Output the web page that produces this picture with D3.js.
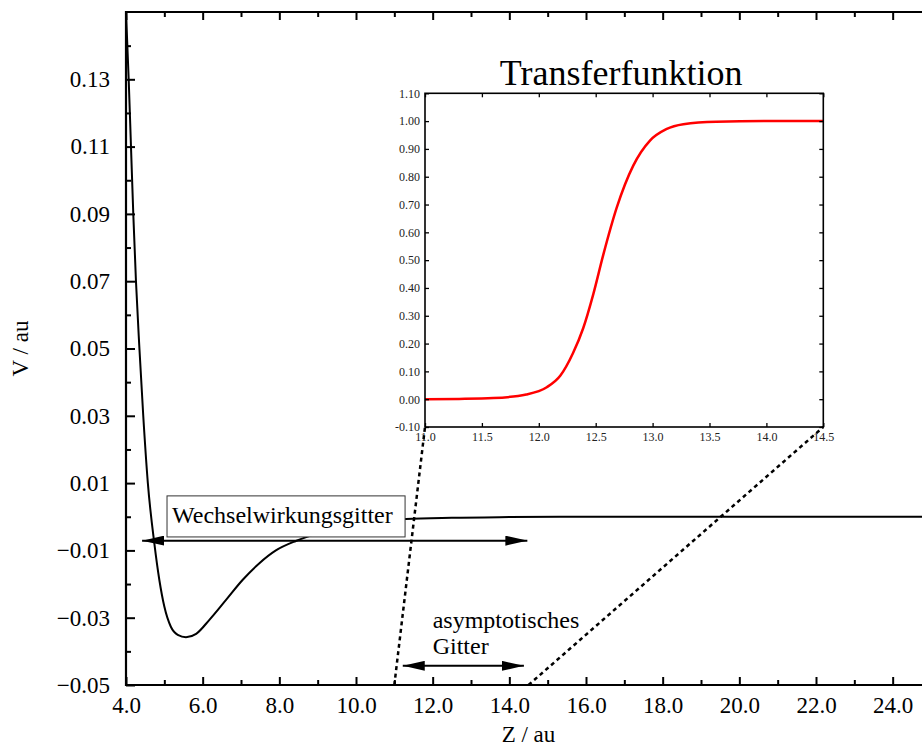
<!DOCTYPE html>
<html>
<head>
<meta charset="utf-8">
<script src="https://cdn.jsdelivr.net/npm/d3@7"></script>
<style>
  html, body { margin: 0; padding: 0; background: #fff; }
  svg { display: block; font-family: "Liberation Serif", "Times New Roman", serif; }
</style>
</head>
<body>
<svg id="chart" width="922" height="748"></svg>
<script>
// ---- Data: main potential curve V(Z) ----
const potZ = [4.00, 4.07, 4.13, 4.19, 4.26, 4.35, 4.45, 4.57, 4.74, 4.87, 5.00, 5.17, 5.35, 5.565, 5.83, 6.17, 6.61, 7.04, 7.48, 7.91, 8.43, 8.74, 9.50, 10.50, 11.30, 12.50, 14.00, 16.00, 20.00, 25.00];
const potV = [0.150, 0.130, 0.110, 0.090, 0.070, 0.050, 0.030, 0.010, -0.0080, -0.0188, -0.0267, -0.0327, -0.0351, -0.0358, -0.0348, -0.0307, -0.0247, -0.0188, -0.0138, -0.0100, -0.0072, -0.0059, -0.0035, -0.0016, -0.0007, -0.0003, -0.0001, 0.0000, 0.0000, 0.0000];

// ---- Data: inset transfer function ----
const tfZ = [11.0, 11.3, 11.6, 11.89, 12.07, 12.19, 12.30, 12.39, 12.479, 12.567, 12.684, 12.83, 12.977, 13.12, 13.27, 13.56, 14.0, 14.5];
const tfV = [0.000, 0.001, 0.004, 0.017, 0.043, 0.085, 0.165, 0.255, 0.378, 0.520, 0.688, 0.840, 0.930, 0.971, 0.989, 0.998, 1.000, 1.000];

// ---- Tick values ----
const mainXMajor = [4, 6, 8, 10, 12, 14, 16, 18, 20, 22, 24];
const mainXMinor = [5, 7, 9, 11, 13, 15, 17, 19, 21, 23, 25];
const mainYMajor = [-0.05, -0.03, -0.01, 0.01, 0.03, 0.05, 0.07, 0.09, 0.11, 0.13];
const mainYMinor = [-0.04, -0.02, 0.00, 0.02, 0.04, 0.06, 0.08, 0.10, 0.12, 0.14];
const insetXTicks = [11.0, 11.5, 12.0, 12.5, 13.0, 13.5, 14.0, 14.5];
const insetYTicks = [-0.1, 0.0, 0.1, 0.2, 0.3, 0.4, 0.5, 0.6, 0.7, 0.8, 0.9, 1.0, 1.1];

// ---- Annotations (data units) ----
const wwArrow = { z0: 4.42, z1: 14.47, v: -0.0071 };
const wwBox = { z0: 5.07, z1: 11.28, v0: 0.0062, v1: -0.006, label: "Wechselwirkungsgitter" };
const asArrow = { z0: 11.22, z1: 14.38, v: -0.0443 };
const asLabel = { z: 12.0, lines: ["asymptotisches", "Gitter"], v: [-0.0330, -0.0407] };
const zoomLinks = [ { mainZ: 11.0, insetZ: 11.0 }, { mainZ: 14.5, insetZ: 14.5 } ];

const svg = d3.select("#chart");
const SERIF = "'Liberation Serif', 'Times New Roman', serif";

// ---- Main scales ----
const x = d3.scaleLinear().domain([4, 25]).range([126, 931]);
const y = d3.scaleLinear().domain([-0.05, 0.15]).range([685, 12]);

// ---- Inset scales ----
const ix = d3.scaleLinear().domain([11.0, 14.5]).range([425, 823.3]);
const iy = d3.scaleLinear().domain([-0.10, 1.10]).range([427, 93.3]);

const defs = svg.append("defs");
defs.append("clipPath").attr("id", "mainClip")
  .append("rect").attr("x", 126).attr("y", 12).attr("width", 805).attr("height", 673);

// Main curve
svg.append("path")
  .attr("clip-path", "url(#mainClip)")
  .attr("d", d3.line().x(d => x(d[0])).y(d => y(d[1])).curve(d3.curveMonotoneX)(potZ.map((z, i) => [z, potV[i]])))
  .attr("fill", "none").attr("stroke", "#000").attr("stroke-width", 2).attr("stroke-linejoin", "round");

// Main axes
function styleAxis(g, fontSize) {
  g.select(".domain").remove();
  g.selectAll(".tick line").attr("stroke", "#000").attr("stroke-width", 2);
  g.selectAll(".tick text").attr("fill", "#000").style("font-size", fontSize + "px").style("font-family", SERIF);
}
const gxb = svg.append("g").attr("transform", `translate(0,${y(-0.05)})`)
  .call(d3.axisBottom(x).tickValues(mainXMajor).tickSize(-8).tickPadding(12).tickFormat(d3.format(".1f")));
styleAxis(gxb, 23);
const gxbm = svg.append("g").attr("transform", `translate(0,${y(-0.05)})`)
  .call(d3.axisBottom(x).tickValues(mainXMinor).tickSize(-5).tickFormat(""));
styleAxis(gxbm, 23);
const gxt = svg.append("g").attr("transform", `translate(0,${y(0.15)})`)
  .call(d3.axisTop(x).tickValues(mainXMajor).tickSize(-8).tickFormat(""));
styleAxis(gxt, 23);
const gxtm = svg.append("g").attr("transform", `translate(0,${y(0.15)})`)
  .call(d3.axisTop(x).tickValues(mainXMinor).tickSize(-5).tickFormat(""));
styleAxis(gxtm, 23);
const gyl = svg.append("g").attr("transform", `translate(${x(4)},0)`)
  .call(d3.axisLeft(y).tickValues(mainYMajor).tickSize(-9).tickPadding(16).tickFormat(d3.format(".2f")));
styleAxis(gyl, 23);
const gylm = svg.append("g").attr("transform", `translate(${x(4)},0)`)
  .call(d3.axisLeft(y).tickValues(mainYMinor).tickSize(-5).tickFormat(""));
styleAxis(gylm, 23);

// frame lines
svg.append("line").attr("x1", x(4)).attr("x2", x(25)).attr("y1", y(-0.05)).attr("y2", y(-0.05)).attr("stroke", "#000").attr("stroke-width", 2.2);
svg.append("line").attr("x1", x(4)).attr("x2", x(25)).attr("y1", y(0.15)).attr("y2", y(0.15)).attr("stroke", "#000").attr("stroke-width", 2.2);
svg.append("line").attr("x1", x(4)).attr("x2", x(4)).attr("y1", y(-0.05) + 1).attr("y2", y(0.15) - 1).attr("stroke", "#000").attr("stroke-width", 2.2);

// axis titles
svg.append("text").attr("x", (x(4) + x(25)) / 2).attr("y", 742).attr("text-anchor", "middle")
  .style("font-size", "23px").text("Z / au");
svg.append("text").attr("transform", `translate(28,${(y(-0.05) + y(0.15)) / 2}) rotate(-90)`)
  .attr("text-anchor", "middle").style("font-size", "23px").text("V / au");

// Arrow marker
defs.append("marker").attr("id", "ah").attr("viewBox", "0 0 22 10").attr("refX", 22).attr("refY", 5)
  .attr("markerUnits", "userSpaceOnUse").attr("markerWidth", 22).attr("markerHeight", 10).attr("orient", "auto-start-reverse")
  .append("path").attr("d", "M0,0 L22,5 L0,10 Z").attr("fill", "#000");

// Wechselwirkungsgitter arrow
svg.append("line").attr("x1", x(wwArrow.z0)).attr("x2", x(wwArrow.z1)).attr("y1", y(wwArrow.v)).attr("y2", y(wwArrow.v))
  .attr("stroke", "#000").attr("stroke-width", 2)
  .attr("marker-start", "url(#ah)").attr("marker-end", "url(#ah)");
// box
svg.append("rect").attr("x", x(wwBox.z0)).attr("y", y(wwBox.v0))
  .attr("width", x(wwBox.z1) - x(wwBox.z0)).attr("height", y(wwBox.v1) - y(wwBox.v0))
  .attr("fill", "#fff").attr("stroke", "#333").attr("stroke-width", 1);
svg.append("text").attr("x", x(wwBox.z0) + 5).attr("y", 522.5)
  .style("font-size", "24px").text(wwBox.label);

// asymptotisches Gitter arrow and label
svg.append("line").attr("x1", x(asArrow.z0)).attr("x2", x(asArrow.z1)).attr("y1", y(asArrow.v)).attr("y2", y(asArrow.v))
  .attr("stroke", "#000").attr("stroke-width", 2)
  .attr("marker-start", "url(#ah)").attr("marker-end", "url(#ah)");
asLabel.lines.forEach((t, i) => {
  svg.append("text").attr("x", x(asLabel.z)).attr("y", y(asLabel.v[i])).style("font-size", "24px").text(t);
});

// ---- Inset ----
const inset = svg.append("g");
inset.append("rect").attr("x", ix(11)).attr("y", iy(1.1)).attr("width", ix(14.5) - ix(11)).attr("height", iy(-0.1) - iy(1.1))
  .attr("fill", "#fff");

// dashed zoom links
zoomLinks.forEach(l => {
  svg.append("line").attr("x1", x(l.mainZ)).attr("y1", y(-0.05)).attr("x2", ix(l.insetZ)).attr("y2", iy(-0.10))
    .attr("stroke", "#000").attr("stroke-width", 2.5).attr("stroke-dasharray", "4,3.5");
});

inset.append("path")
  .attr("d", d3.line().x(d => ix(d[0])).y(d => iy(d[1])).curve(d3.curveMonotoneX)(tfZ.map((z, i) => [z, tfV[i]])))
  .attr("fill", "none").attr("stroke", "#ff0000").attr("stroke-width", 2.5);

function styleInset(g) {
  g.select(".domain").remove();
  g.selectAll(".tick line").attr("stroke", "#000").attr("stroke-width", 1.3);
  g.selectAll(".tick text").attr("fill", "#222").style("font-size", "12px").style("font-family", SERIF);
}
const fmtI = d => d3.format(".2f")(d).replace("\u2212", "-");
const igl = inset.append("g").attr("transform", `translate(${ix(11)},0)`)
  .call(d3.axisLeft(iy).tickValues(insetYTicks).tickSize(-4).tickPadding(5).tickFormat(fmtI));
styleInset(igl);
const igr = inset.append("g").attr("transform", `translate(${ix(14.5)},0)`)
  .call(d3.axisRight(iy).tickValues(insetYTicks).tickSize(-4).tickFormat(""));
styleInset(igr);
const igb = inset.append("g").attr("transform", `translate(0,${iy(-0.1)})`)
  .call(d3.axisBottom(ix).tickValues(insetXTicks).tickSize(-4).tickPadding(5).tickFormat(d3.format(".1f")));
styleInset(igb);
const igt = inset.append("g").attr("transform", `translate(0,${iy(1.1)})`)
  .call(d3.axisTop(ix).tickValues(insetXTicks).tickSize(-4).tickFormat(""));
styleInset(igt);
inset.append("rect").attr("x", ix(11)).attr("y", iy(1.1)).attr("width", ix(14.5) - ix(11)).attr("height", iy(-0.1) - iy(1.1))
  .attr("fill", "none").attr("stroke", "#000").attr("stroke-width", 1.6);

inset.append("text").attr("x", (ix(11) + ix(14.5)) / 2 - 3).attr("y", 85).attr("text-anchor", "middle")
  .style("font-size", "36px").text("Transferfunktion");
</script>
</body>
</html>
